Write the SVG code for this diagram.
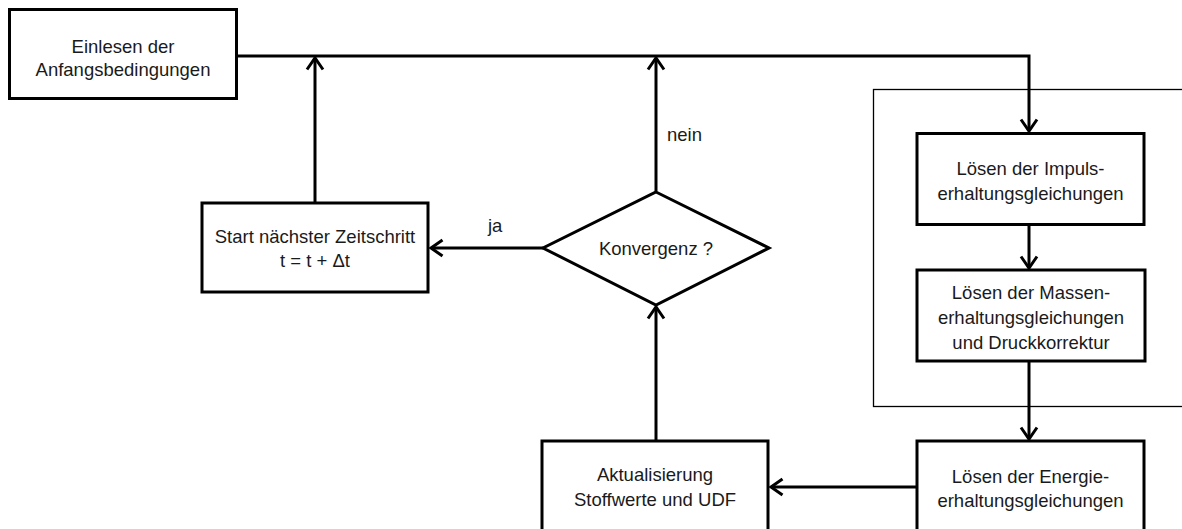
<svg xmlns="http://www.w3.org/2000/svg" width="1182" height="529" viewBox="0 0 1182 529">
<style>
.box{fill:#fff;stroke:#000;stroke-width:3}
.t{font-family:"Liberation Sans",Arial,sans-serif;font-size:18.5px;fill:#1a1a1a;text-anchor:middle}
.l{font-family:"Liberation Sans",Arial,sans-serif;font-size:18.5px;fill:#1a1a1a}
.c{fill:none;stroke:#000;stroke-width:3}
.frame{fill:none;stroke:#000;stroke-width:1.3}
</style>
<defs>
<marker id="ah" markerUnits="userSpaceOnUse" markerWidth="22" markerHeight="22" viewBox="-14 -11 16 22" refX="0" refY="0" orient="auto">
<path d="M-11.5,-8 L0,0 L-11.5,8" fill="none" stroke="#000" stroke-width="3"/>
</marker>
</defs>
<rect class="frame" x="873.5" y="89.5" width="400" height="317"/>
<g id="connectors">
<path class="c" d="M237,56 H1029 V131" marker-end="url(#ah)"/>
<path class="c" d="M315,202 V58" marker-end="url(#ah)"/>
<path class="c" d="M656,191 V58" marker-end="url(#ah)"/>
<path class="c" d="M543,248 H431" marker-end="url(#ah)"/>
<path class="c" d="M1029,225 V268" marker-end="url(#ah)"/>
<path class="c" d="M1029,361 V439" marker-end="url(#ah)"/>
<path class="c" d="M656,441 V307" marker-end="url(#ah)"/>
<path class="c" d="M917,487 H771" marker-end="url(#ah)"/>
<text class="l" x="667" y="141">nein</text>
<text class="l" x="488" y="232">ja</text>
</g>
<g id="einlesen">
<rect class="box" x="9.5" y="9.5" width="227" height="89"/>
<text class="t" x="123" y="53">Einlesen der</text>
<text class="t" x="123" y="76">Anfangsbedingungen</text>
</g>
<g id="start">
<rect class="box" x="202" y="203" width="226" height="89"/>
<text class="t" x="315" y="243">Start nächster Zeitschritt</text>
<text class="t" x="315" y="267">t = t + Δt</text>
</g>
<g id="konvergenz">
<polygon class="box" points="656,192 769,248 656,305 543,248"/>
<text class="t" x="656" y="255">Konvergenz ?</text>
</g>
<g id="impuls">
<rect class="box" x="917" y="133.5" width="227" height="91"/>
<text class="t" x="1030.5" y="175">Lösen der Impuls-</text>
<text class="t" x="1030.5" y="200">erhaltungsgleichungen</text>
</g>
<g id="masse">
<rect class="box" x="917" y="270" width="228" height="91"/>
<text class="t" x="1031" y="299">Lösen der Massen-</text>
<text class="t" x="1031" y="324">erhaltungsgleichungen</text>
<text class="t" x="1031" y="349">und Druckkorrektur</text>
</g>
<g id="aktualisierung">
<rect class="box" x="542" y="441" width="226" height="100"/>
<text class="t" x="655" y="481">Aktualisierung</text>
<text class="t" x="655" y="506">Stoffwerte und UDF</text>
</g>
<g id="energie">
<rect class="box" x="917" y="441" width="227" height="100"/>
<text class="t" x="1030.5" y="483">Lösen der Energie-</text>
<text class="t" x="1030.5" y="507">erhaltungsgleichungen</text>
</g>
</svg>
